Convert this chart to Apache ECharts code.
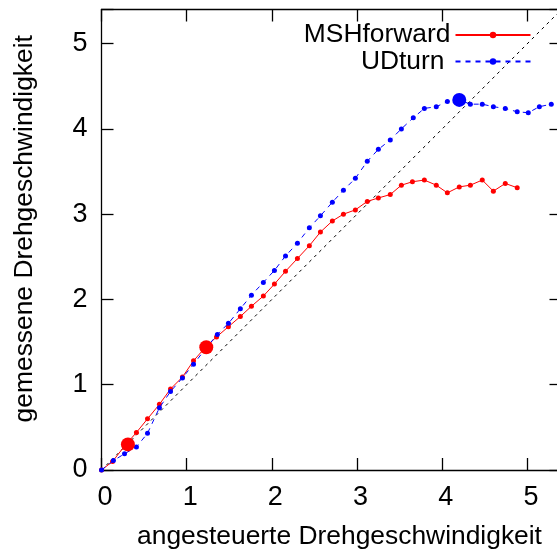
<!DOCTYPE html>
<html><head><meta charset="utf-8">
<script src="https://cdn.jsdelivr.net/npm/echarts@6/dist/echarts.min.js"></script>
<style>html,body{margin:0;padding:0;background:#fff}#c{width:557px;height:550px}</style>
</head><body><div id="c"></div>
<script>
var xRed = [0, 0.13, 0.27, 0.41, 0.54, 0.68, 0.81, 0.95, 1.08, 1.22, 1.35, 1.49, 1.63, 1.76, 1.90, 2.03, 2.16, 2.30, 2.44, 2.57, 2.71, 2.84, 2.98, 3.12, 3.25, 3.39, 3.52, 3.65, 3.79, 3.93, 4.06, 4.20, 4.33, 4.47, 4.60, 4.74, 4.88];
var yRed = [0, 0.10, 0.28, 0.44, 0.60, 0.77, 0.95, 1.09, 1.28, 1.44, 1.56, 1.68, 1.80, 1.92, 2.04, 2.18, 2.33, 2.48, 2.63, 2.79, 2.92, 3.00, 3.05, 3.15, 3.19, 3.23, 3.34, 3.38, 3.40, 3.34, 3.25, 3.32, 3.34, 3.40, 3.27, 3.36, 3.31];
var xBlue = [0, 0.14, 0.27, 0.41, 0.54, 0.68, 0.81, 0.95, 1.08, 1.22, 1.36, 1.49, 1.63, 1.76, 1.90, 2.03, 2.16, 2.30, 2.44, 2.57, 2.71, 2.84, 2.98, 3.12, 3.25, 3.39, 3.52, 3.66, 3.79, 3.93, 4.06, 4.20, 4.33, 4.47, 4.60, 4.74, 4.88, 5.01, 5.14, 5.28];
var yBlue = [0, 0.11, 0.19, 0.27, 0.43, 0.73, 0.92, 1.08, 1.24, 1.42, 1.59, 1.72, 1.89, 2.05, 2.20, 2.34, 2.51, 2.66, 2.84, 2.98, 3.14, 3.28, 3.42, 3.62, 3.76, 3.87, 4.00, 4.13, 4.24, 4.26, 4.32, 4.34, 4.29, 4.29, 4.26, 4.24, 4.20, 4.19, 4.26, 4.29];
var xBigRed = [0.31, 1.23];
var yBigRed = [0.30, 1.44];
var xBigBlue = [4.20];
var yBigBlue = [4.34];
var diagX = [0, 5.4];
var tickLabels = ['0', '1', '2', '3', '4', '5'];
var redName = 'MSHforward';
var blueName = 'UDturn';
var xTitle = 'angesteuerte Drehgeschwindigkeit';
var yTitle = 'gemessene Drehgeschwindigkeit';

function pairs(xs, ys) { return xs.map(function (x, i) { return [x, ys[i]]; }); }

var FONT = 'Liberation Sans, Arial, Helvetica, sans-serif';
var FS = 26.4;
var FS_TICK = 27;
function axisCommon(extra) {
  var a = {
    type: 'value', min: 0, max: 5.4, interval: 1,
    axisLine: { show: true, onZero: false, lineStyle: { color: '#000', width: 1.3 } },
    axisTick: { show: true, inside: true, length: 12, lineStyle: { color: '#000', width: 1.3 } },
    splitLine: { show: false }
  };
  for (var k in extra) a[k] = extra[k];
  return a;
}
function labelFmt(v) { var i = Math.round(v); return (Math.abs(v - i) < 1e-9 && i < tickLabels.length) ? tickLabels[i] : ''; }

var chart = echarts.init(document.getElementById('c'), null, { renderer: 'canvas' });
chart.setOption({
  animation: false,
  backgroundColor: '#fff',
  grid: { left: 101.5, top: 9.5, width: 460, height: 460.5, containLabel: false, outerBoundsMode: 'none' },
  legend: {
    show: true, orient: 'vertical', align: 'right', right: 20.5, top: 17,
    itemWidth: 75, itemHeight: 8, itemGap: 0.5,
    formatter: function (name) { return name === blueName ? '{u|' + name + '}' : name; },
    textStyle: {
      fontFamily: FONT, fontSize: FS, lineHeight: 26, color: '#000',
      rich: { u: { fontFamily: FONT, fontSize: FS, lineHeight: 26, color: '#000', padding: [0, 6, 0, 0] } }
    },
    data: [redName, blueName]
  },
  xAxis: [
    axisCommon({
      position: 'bottom',
      name: xTitle, nameLocation: 'middle', nameGap: 54,
      nameTextStyle: { fontFamily: FONT, fontSize: FS, color: '#000', padding: [0, 0, 0, 16] },
      axisLabel: { margin: 14, fontFamily: FONT, fontSize: FS_TICK, color: '#000', padding: [0, 0, 0, 7], formatter: labelFmt }
    }),
    axisCommon({ position: 'top', axisLabel: { show: false } })
  ],
  yAxis: [
    axisCommon({
      position: 'left',
      name: yTitle, nameLocation: 'middle', nameGap: 64,
      nameTextStyle: { fontFamily: FONT, fontSize: FS, color: '#000', padding: [0, 0, 0, 22] },
      axisLabel: { margin: 14, fontFamily: FONT, fontSize: FS_TICK, color: '#000', formatter: labelFmt }
    }),
    axisCommon({ position: 'right', axisLabel: { show: false } })
  ],
  series: [
    {
      name: 'diag', type: 'line', data: pairs(diagX, diagX), showSymbol: false, symbol: 'none', silent: true,
      lineStyle: { color: '#000', width: 1, type: [3, 4] }, z: 1
    },
    {
      name: redName, type: 'line', data: pairs(xRed, yRed), symbol: 'circle', symbolSize: 5, showAllSymbol: true,
      itemStyle: { color: '#ff0000' }, lineStyle: { color: '#ff0000', width: 1 }, z: 2
    },
    {
      name: blueName, type: 'line', data: pairs(xBlue, yBlue), symbol: 'circle', symbolSize: 5, showAllSymbol: true,
      itemStyle: { color: '#0000ff' }, lineStyle: { color: '#0000ff', width: 1, type: [5, 5] }, z: 3
    },
    {
      name: 'bigRed', type: 'scatter', data: pairs(xBigRed, yBigRed), symbol: 'circle', symbolSize: 14,
      itemStyle: { color: '#ff0000', opacity: 1 }, z: 4
    },
    {
      name: 'bigBlue', type: 'scatter', data: pairs(xBigBlue, yBigBlue), symbol: 'circle', symbolSize: 14,
      itemStyle: { color: '#0000ff', opacity: 1 }, z: 4
    }
  ]
});
</script></body></html>
